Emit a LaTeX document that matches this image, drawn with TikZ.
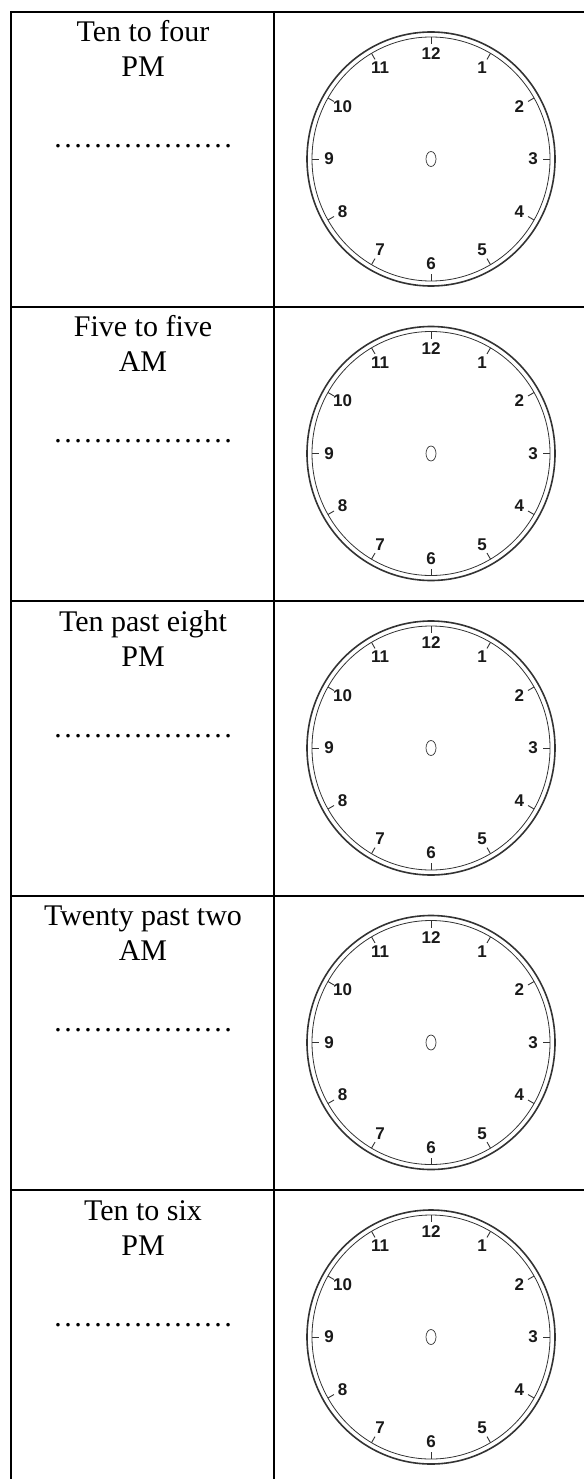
\documentclass[tikz,border=0pt]{standalone}
\usepackage{fontspec}
\setmainfont{Liberation Serif}
\newfontfamily\dialfont{Liberation Sans}
\newcommand {\clockface}[3] {
	\begin{scope}[shift={(#1,#2)}]
	\draw[ring, line width=1.6pt] (0,0) ellipse [x radius=124pt, y radius=127pt];
	\draw[ring, line width=0.8pt] (0,0) ellipse [x radius=119pt, y radius=122pt];
	\draw[ring, line width=0.7pt] (0,0) ellipse [x radius=5pt, y radius=7.5pt];
	\foreach \h in {1,...,12} {
		\draw[ring, line width=0.9pt] ({119*cos(30*\h-90)},{122*sin(30*\h-90)}) -- ({112*cos(30*\h-90)},{115*sin(30*\h-90)});
		\node[numeral] (#3-\h) at ({102*cos(30*\h-90)},{105*sin(30*\h-90)}) {\h};
	}
	\end{scope}
}

\begin{document}
\begin{tikzpicture}[x=1pt, y=-1pt,
	grid/.style={line width=2pt, black},
	ring/.style={draw=black!80},
	numeral/.style={font=\dialfont\bfseries\fontsize{17}{17}\selectfont, text=black!90, inner sep=0pt},
	lbl/.style={font=\fontsize{30}{35}\selectfont, anchor=base, inner sep=0pt}]
	\useasboundingbox (0,0) rectangle (584,1479);
	\draw[grid] (11,12) -- (584,12);
	\foreach \y in {306.5,601,895.5,1190} \draw[grid] (11,\y) -- (584,\y);
	\draw[grid] (11,11) -- (11,1479);
	\draw[grid] (274,11) -- (274,1479);
	\foreach \t/\m [count=\i, evaluate=\i as \r using {12+294.5*(\i-1)}] in {Ten to four/PM, Five to five/AM, Ten past eight/PM, Twenty past two/AM, Ten to six/PM} {
		\node[lbl] (q\i) at (143,\r+30) {\t};
		\node[lbl] (ap\i) at (143,\r+65) {\m};
		\node[lbl] (ans\i) at (143,\r+136) {………………};
		\clockface{431}{\r+147}{clk\i}
	}
\end{tikzpicture}
\end{document}
